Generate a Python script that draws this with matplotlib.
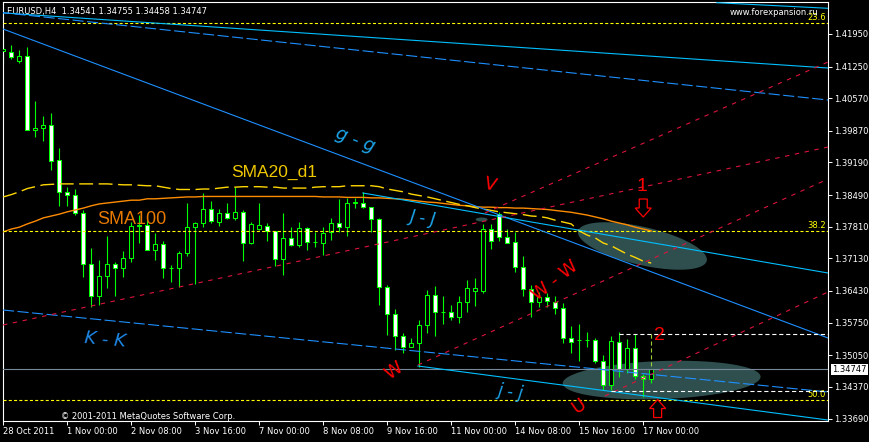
'''
eurusd_h4
-----------------------------------------------------------
EURUSD H4 candles with SMA100, daily SMA20, trendlines,
fibonacci levels and chart marks (MetaTrader style).
'''
# load packages -------------------------------------------
import numpy as np
import matplotlib.pyplot as plt
from matplotlib.patches import Polygon
from matplotlib.transforms import ScaledTranslation

# data ----------------------------------------------------
opens = [1.4158, 1.4157, 1.4138, 1.4148, 1.3989, 1.3992, 1.4000, 1.3924, 1.3856, 1.3849,
         1.3811, 1.3701, 1.3633, 1.3676, 1.3701, 1.3692, 1.3714, 1.3783, 1.3784, 1.3731,
         1.3744, 1.3692, 1.3692, 1.3725, 1.3780, 1.3789, 1.3820, 1.3792, 1.3811, 1.3799,
         1.3813, 1.3745, 1.3776, 1.3783, 1.3771, 1.3711, 1.3756, 1.3742, 1.3778, 1.3748,
         1.3745, 1.3769, 1.3788, 1.3781, 1.3833, 1.3833, 1.3823, 1.3797, 1.3652, 1.3593,
         1.3547, 1.3523, 1.3531, 1.3569, 1.3634, 1.3597, 1.3598, 1.3588, 1.3620, 1.3644,
         1.3644, 1.3776, 1.3808, 1.3758, 1.3748, 1.3695, 1.3647, 1.3619, 1.3629, 1.3620,
         1.3606, 1.3543, 1.3538, 1.3538, 1.3538, 1.3493, 1.3440, 1.3534, 1.3475, 1.3521,
         1.3460, 1.34541]
highs = [1.4186, 1.4171, 1.4161, 1.4166, 1.4051, 1.4019, 1.4025, 1.3950, 1.3867, 1.3862,
         1.3817, 1.3735, 1.3710, 1.3761, 1.3705, 1.3729, 1.3792, 1.3806, 1.3795, 1.3768,
         1.3751, 1.3699, 1.3729, 1.3832, 1.3792, 1.3853, 1.3836, 1.3819, 1.3832, 1.3866,
         1.3817, 1.3791, 1.3833, 1.3789, 1.3772, 1.3811, 1.3781, 1.3791, 1.3781, 1.3770,
         1.3780, 1.3799, 1.3840, 1.3842, 1.3843, 1.3855, 1.3824, 1.3799, 1.3656, 1.3604,
         1.3552, 1.3543, 1.3581, 1.3645, 1.3654, 1.3632, 1.3613, 1.3632, 1.3667, 1.3670,
         1.3786, 1.3786, 1.3813, 1.3776, 1.3770, 1.3719, 1.3656, 1.3641, 1.3638, 1.3633,
         1.3617, 1.3568, 1.3572, 1.3554, 1.3541, 1.3505, 1.3546, 1.3554, 1.3539, 1.3551,
         1.3465, 1.34755]
lows = [1.4133, 1.4141, 1.4132, 1.3988, 1.3974, 1.3966, 1.3903, 1.3826, 1.3826, 1.3806,
        1.3673, 1.3609, 1.3613, 1.3649, 1.3633, 1.3674, 1.3705, 1.3746, 1.3730, 1.3710,
        1.3671, 1.3663, 1.3652, 1.3718, 1.3659, 1.3781, 1.3789, 1.3783, 1.3798, 1.3795,
        1.3708, 1.3744, 1.3774, 1.3751, 1.3697, 1.3677, 1.3740, 1.3738, 1.3731, 1.3738,
        1.3720, 1.3752, 1.3770, 1.3762, 1.3821, 1.3821, 1.3770, 1.3613, 1.3548, 1.3516,
        1.3509, 1.3523, 1.3480, 1.3552, 1.3547, 1.3572, 1.3581, 1.3575, 1.3598, 1.3611,
        1.3638, 1.3733, 1.3751, 1.3745, 1.3684, 1.3632, 1.3588, 1.3608, 1.3608, 1.3593,
        1.3532, 1.3509, 1.3493, 1.3523, 1.3489, 1.3430, 1.3430, 1.3459, 1.3467, 1.3453,
        1.3416, 1.34458]
closes = [1.4163, 1.4145, 1.4148, 1.3989, 1.3993, 1.4000, 1.3923, 1.3856, 1.3849, 1.3811,
          1.3701, 1.3633, 1.3676, 1.3701, 1.3692, 1.3714, 1.3783, 1.3784, 1.3731, 1.3744,
          1.3692, 1.3693, 1.3725, 1.3780, 1.3789, 1.3819, 1.3793, 1.3811, 1.3799, 1.3813,
          1.3745, 1.3787, 1.3785, 1.3771, 1.3711, 1.3756, 1.3742, 1.3778, 1.3748, 1.3748,
          1.3767, 1.3788, 1.3781, 1.3833, 1.3833, 1.3823, 1.3797, 1.3652, 1.3593, 1.3547,
          1.3523, 1.3531, 1.3569, 1.3634, 1.3597, 1.3598, 1.3588, 1.3620, 1.3649, 1.3649,
          1.3776, 1.3751, 1.3758, 1.3747, 1.3695, 1.3647, 1.3619, 1.3629, 1.3621, 1.3606,
          1.3543, 1.3534, 1.3538, 1.3538, 1.3493, 1.3440, 1.3536, 1.3475, 1.3520, 1.3460,
          1.3453, 1.34747]

sma100 = [1.3770, 1.3776, 1.3780, 1.3787, 1.3793, 1.3800, 1.3804, 1.3808, 1.3813, 1.3817,
          1.3821, 1.3826, 1.3830, 1.3832, 1.3834, 1.3836, 1.3838, 1.3838, 1.3841, 1.3841,
          1.3842, 1.3843, 1.3844, 1.3845, 1.3845, 1.3846, 1.3846, 1.3846, 1.3846, 1.3846,
          1.3846, 1.3846, 1.3846, 1.3846, 1.3846, 1.3846, 1.3846, 1.3846, 1.3846, 1.3846,
          1.3845, 1.3845, 1.3845, 1.3844, 1.3844, 1.3844, 1.3843, 1.3843, 1.3842, 1.3841,
          1.3840, 1.3838, 1.3836, 1.3834, 1.3833, 1.3831, 1.3829, 1.3827, 1.3826, 1.3824,
          1.3823, 1.3823, 1.3822, 1.3822, 1.3821, 1.3821, 1.3820, 1.3819, 1.3818, 1.3816,
          1.3814, 1.3812, 1.3809, 1.3806, 1.3802, 1.3798, 1.3793, 1.3789, 1.3785, 1.3780,
          1.3776, 1.3772]
sma20_d1 = [1.3845, 1.3850, 1.3856, 1.3863, 1.3867, 1.3871, 1.3872, 1.3873, 1.3873, 1.3873,
            1.3873, 1.3873, 1.3873, 1.3873, 1.3872, 1.3871, 1.3871, 1.3870, 1.3869, 1.3869,
            1.3866, 1.3863, 1.3861, 1.3861, 1.3861, 1.3862, 1.3862, 1.3864, 1.3866, 1.3866,
            1.3867, 1.3867, 1.3867, 1.3866, 1.3866, 1.3864, 1.3864, 1.3864, 1.3864, 1.3866,
            1.3867, 1.3867, 1.3867, 1.3869, 1.3869, 1.3869, 1.3869, 1.3867, 1.3862, 1.3859,
            1.3856, 1.3851, 1.3848, 1.3845, 1.3841, 1.3837, 1.3833, 1.3829, 1.3826, 1.3822,
            1.3819, 1.3816, 1.3813, 1.3811, 1.3809, 1.3807, 1.3804, 1.3803, 1.3800, 1.3795,
            1.3791, 1.3787, 1.3772, 1.3763, 1.3757, 1.3746, 1.3740, 1.3731, 1.3722, 1.3715,
            1.3707, 1.3703]

x_label_bars = [0, 8, 16, 24, 32, 40, 48, 56, 64, 72, 80]
x_labels = ['28 Oct 2011', '1 Nov 00:00', '2 Nov 08:00', '3 Nov 16:00', '7 Nov 00:00',
            '8 Nov 08:00', '9 Nov 16:00', '11 Nov 00:00', '14 Nov 08:00', '15 Nov 16:00',
            '17 Nov 00:00']
y_ticks = [1.41950, 1.41250, 1.40570, 1.39870, 1.39190, 1.38490, 1.37810,
           1.37130, 1.36430, 1.35750, 1.35050, 1.34370, 1.33690]

fib_levels = [1.4218, 1.3772, 1.3408]
fib_names = ['23.6', '38.2', '50.0']

# trendlines as [bar0, price0, bar1, price1]
line_gg = [-0.04, 1.42057, 103.1, 1.35420]
line_top1 = [-0.41, 1.42407, 103.1, 1.41219]
line_top2 = [-0.41, 1.42414, 103.1, 1.40532]
line_top3 = [89.2, 1.42622, 103.1, 1.42502]
line_JJ = [44.96, 1.38534, 103.1, 1.36816]
line_KK = [-0.04, 1.36021, 103.1, 1.34260]
line_jj = [51.84, 1.34818, 103.1, 1.33658]
red_lines = [[-0.04, 1.35699, 103.1, 1.39522],
             [51.84, 1.34840, 103.1, 1.38835],
             [75.2, 1.34174, 103.1, 1.36408],
             [60.2, 1.38105, 103.1, 1.41348]]

# marks near the last bars
level_hi = 1.3550
level_lo = 1.3428

assert len(opens) == len(highs) == len(lows) == len(closes) == 82
assert len(sma100) == len(sma20_d1) == 82

bars = np.arange(len(closes))

# plot ----------------------------------------------------
plt.rcParams['font.family'] = ['DejaVu Sans']
plt.rcParams['lines.scale_dashes'] = False

W, H = 870, 442
fig = plt.figure(figsize=(W / 100, H / 100), dpi=100, facecolor='black')
ax = fig.add_axes([3 / W, 21 / H, 825 / W, 419 / H], facecolor='black')
xlim = (-0.04, 103.1)
ylim = (1.33637, 1.42637)
ax.set_xlim(*xlim)
ax.set_ylim(*ylim)

bar_per_px = (xlim[1] - xlim[0]) / 825
price_per_px = (ylim[1] - ylim[0]) / 419


def ellipse(cx, cy, a_px, b_px, ang):
    t = np.linspace(0, 2 * np.pi, 160)
    th = np.radians(ang)
    dx = a_px * np.cos(t) * np.cos(th) - b_px * np.sin(t) * np.sin(th)
    dy = a_px * np.cos(t) * np.sin(th) + b_px * np.sin(t) * np.cos(th)
    ax.fill(cx + dx * bar_per_px, cy + dy * price_per_px,
            color='#2F4F4F', lw=0, zorder=1)


def hollow_arrow(xb, yp, down=True):
    # block arrow outline, shape given in pixels around the anchor
    shape = np.array([[-4, 9], [4, 9], [4, 0], [8, 0], [0, -9],
                      [-8, 0], [-4, 0]], dtype=float) / 100
    if not down:
        shape[:, 1] *= -1
    tr = fig.dpi_scale_trans + ScaledTranslation(xb, yp, ax.transData)
    ax.add_patch(Polygon(shape, closed=True, fill=False, ec='#FF0000',
                         lw=0.9, transform=tr, zorder=6))


# background ellipses:
ellipse(79.9, 1.37396, 66, 19, -13)
ellipse(82.3, 1.34517, 99, 19, 2)
ellipse(59.8, 1.37965, 6, 2, 0)

# candles:
o = np.array(opens)
c = np.array(closes)
ax.vlines(bars, lows, highs, color='#00FF00', lw=0.8, zorder=2)
bear = c < o
body_lo = np.minimum(o, c)
body_h = np.maximum(np.abs(c - o), 0.00002)
ax.bar(bars, body_h, bottom=body_lo, width=0.52,
       color=np.where(bear, 'white', 'black'), edgecolor='#00FF00',
       linewidth=0.75, zorder=3)

# moving averages:
ax.plot(bars, sma100, color='#FF8C00', lw=1.0, zorder=4)
ax.plot(bars, sma20_d1, color='#FFD700', lw=1.0, dashes=(10, 4), zorder=4)

# fibonacci levels:
for lvl, name in zip(fib_levels, fib_names):
    ax.axhline(lvl, color='#FFFF00', lw=0.8, dashes=(2.2, 1.6), zorder=4)
    ax.annotate(name, xy=(1, lvl), xycoords=('axes fraction', 'data'),
                xytext=(-1.5, 1), textcoords='offset points',
                ha='right', va='bottom', color='#FFFF00', fontsize=6)

# trendlines:
def tline(ln, **kw):
    ax.plot([ln[0], ln[2]], [ln[1], ln[3]], zorder=5, **kw)


tline(line_gg, color='#1E90FF', lw=0.8)
tline(line_top1, color='#00BFFF', lw=0.8)
tline(line_top2, color='#1E90FF', lw=0.8, dashes=(8, 2.5))
tline(line_top3, color='#00BFFF', lw=0.8)
tline(line_JJ, color='#00BFFF', lw=0.8)
tline(line_KK, color='#1E90FF', lw=0.8, dashes=(8, 2.5))
tline(line_jj, color='#00BFFF', lw=0.8)
for ln in red_lines:
    tline(ln, color='#DC143C', lw=0.8, dashes=(3.2, 4.0))

# levels near the last bars:
ax.plot([76, xlim[1]], [level_lo, level_lo], color='white', lw=0.8,
        dashes=(3, 2), zorder=5)
ax.plot([77, xlim[1]], [level_hi, level_hi], color='white', lw=0.8,
        dashes=(3, 2), zorder=5)
ax.plot([81, 81], [level_hi, closes[-1]], color='#9ACD32', lw=0.8,
        dashes=(3, 2), zorder=5)

# current price line:
ax.axhline(closes[-1], color='#778899', lw=0.8, zorder=4.5)

# chart marks:
blue_txt = '#1CA6EC'
ax.text(44.0, 1.39673, 'g - g', color=blue_txt, fontsize=13, style='italic',
        rotation=-21, ha='center', va='center', zorder=6)
ax.text(52.5, 1.37997, 'J - J', color=blue_txt, fontsize=12, style='italic',
        rotation=-8, ha='center', va='center', zorder=6)
ax.text(12.7, 1.35387, 'K - K', color='#1E88E8', fontsize=13, style='italic',
        rotation=-5, ha='center', va='center', zorder=6)
ax.text(63.5, 1.34260, 'j - j', color=blue_txt, fontsize=12, style='italic',
        rotation=-8, ha='center', va='center', zorder=6)
ax.text(28.5, 1.38878, 'SMA20_d1', color='#F0C800', fontsize=12.5,
        family='Liberation Sans', ha='left', va='baseline', zorder=6)
ax.text(11.7, 1.37868, 'SMA100', color='#E87A00', fontsize=13,
        family='Liberation Sans', ha='left', va='baseline', zorder=6)
ax.text(60.9, 1.38706, 'V', color='#FF0000', fontsize=13, rotation=-15,
        ha='center', va='center', zorder=6)
ax.text(68.96, 1.36644, 'W - W', color='#FF0000', fontsize=13, rotation=38,
        ha='center', va='center', zorder=6)
ax.text(48.8, 1.34711, 'W', color='#FF0000', fontsize=13, rotation=35,
        ha='center', va='center', zorder=6)
ax.text(71.96, 1.33959, 'U', color='#FF0000', fontsize=13, rotation=35,
        ha='center', va='center', zorder=6)
ax.text(79.9, 1.38680, '1', color='#FF0000', fontsize=14,
        family='Liberation Sans', ha='center', va='center', zorder=6)
ax.text(82.0, 1.35484, '2', color='#FF0000', fontsize=14,
        family='Liberation Sans', ha='center', va='center', zorder=6)
hollow_arrow(80.0, 1.38212, down=True)
hollow_arrow(81.8, 1.33905, down=False)

# texts:
ax.text(0.005, 0.978, 'EURUSD,H4  1.34541 1.34755 1.34458 1.34747',
        transform=ax.transAxes, color='white', fontsize=6, va='center')
ax.text(0.988, 0.974, 'www.forexpansion.ru', transform=ax.transAxes,
        color='white', fontsize=6, ha='right', va='center', zorder=7)
ax.text(0.070, 0.011, '\u00a9 2001-2011 MetaQuotes Software Corp.',
        transform=ax.transAxes, color='white', fontsize=6, va='center')
ax.annotate('%.5f' % closes[-1], xy=(1, closes[-1]),
            xycoords=('axes fraction', 'data'), xytext=(3, 0),
            textcoords='offset points', ha='left', va='center',
            color='black', fontsize=6,
            bbox=dict(boxstyle='square,pad=0.15', fc='white', ec='none'))

# axes:
for s in ax.spines.values():
    s.set_color('white')
    s.set_linewidth(0.8)
ax.yaxis.tick_right()
ax.set_yticks(y_ticks)
ax.set_yticklabels(['%.5f' % v for v in y_ticks])
ax.set_xticks(x_label_bars)
ax.set_xticklabels(x_labels, ha='left')
ax.tick_params(colors='white', labelcolor='white', labelsize=6,
               direction='out', length=3, width=0.7, pad=1.5)

# save ----------------------------------------------------
fig.savefig('out.png', dpi=100, facecolor='black')

# finish routine ------------------------------------------
